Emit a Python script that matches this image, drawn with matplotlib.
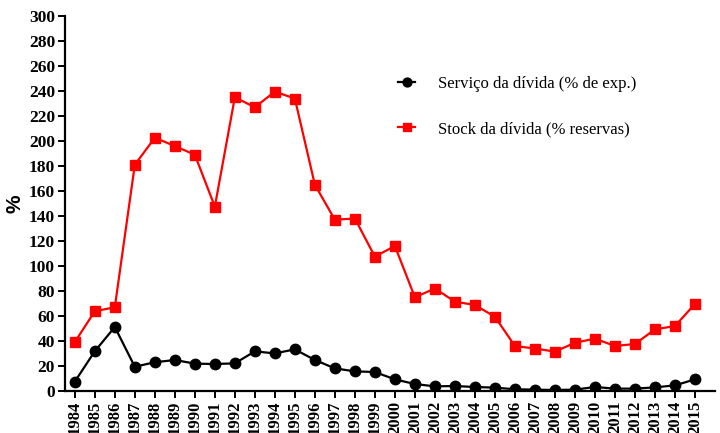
import numpy as np
import matplotlib
matplotlib.use("Agg")
import matplotlib.pyplot as plt

# anos e séries
anos = list(range(1984, 2016))
servico = [7.5, 31.8, 51.2, 19.4, 23.0, 24.8, 21.9, 21.6, 22.1, 31.7, 30.1, 33.3,
           24.8, 18.1, 15.7, 15.2, 9.3, 5.6, 3.7, 4.0, 3.2, 2.7, 1.4, 1.1,
           0.8, 1.1, 3.2, 1.9, 1.9, 2.9, 4.5, 9.3]
stock = [39.2, 63.8, 67.0, 181.0, 202.6, 196.0, 189.0, 147.5, 235.0, 227.0, 239.5, 234.0,
         165.0, 137.0, 138.0, 107.5, 116.0, 75.0, 82.0, 71.5, 68.8, 59.4, 36.0, 34.0,
         31.5, 38.6, 41.9, 36.0, 37.6, 49.3, 52.0, 69.6]

plt.rcParams['font.family'] = ['Liberation Serif', 'DejaVu Serif']

fig = plt.figure(figsize=(7.2, 4.33), dpi=100)
ax = fig.add_axes([0.090, 0.097, 0.903, 0.866])

ax.plot(anos, servico, color='black', marker='o', markersize=7.5, linewidth=1.6,
        label='Serviço da dívida (% de exp.)', zorder=3)
ax.plot(anos, stock, color='#ff0000', marker='s', markersize=7.5, linewidth=1.6,
        label='Stock da dívida (% reservas)', zorder=3)

ax.set_xlim(1983.5, 2016.0)
ax.set_ylim(0, 300)
ax.set_yticks(np.arange(0, 301, 20))
ax.set_xticks(anos)
ax.set_xticklabels([str(a) for a in anos], rotation=90, fontweight='bold', fontsize=12)
for t in ax.get_yticklabels():
    t.set_fontweight('bold')
    t.set_fontsize(12.5)

ax.spines['top'].set_visible(False)
ax.spines['right'].set_visible(False)
ax.spines['left'].set_linewidth(1.6)
ax.spines['bottom'].set_linewidth(1.6)
ax.tick_params(axis='both', direction='out', length=5, width=1.4, pad=2)

ax.set_ylabel('%', fontsize=15, fontweight='bold', family='Liberation Sans', labelpad=3)

leg = ax.legend(loc='upper left', bbox_to_anchor=(0.49, 0.88), frameon=False, fontsize=12,
                handlelength=1.0, labelspacing=1.75, handletextpad=1.4, markerscale=0.85)

fig.savefig('out.png', dpi=100)
